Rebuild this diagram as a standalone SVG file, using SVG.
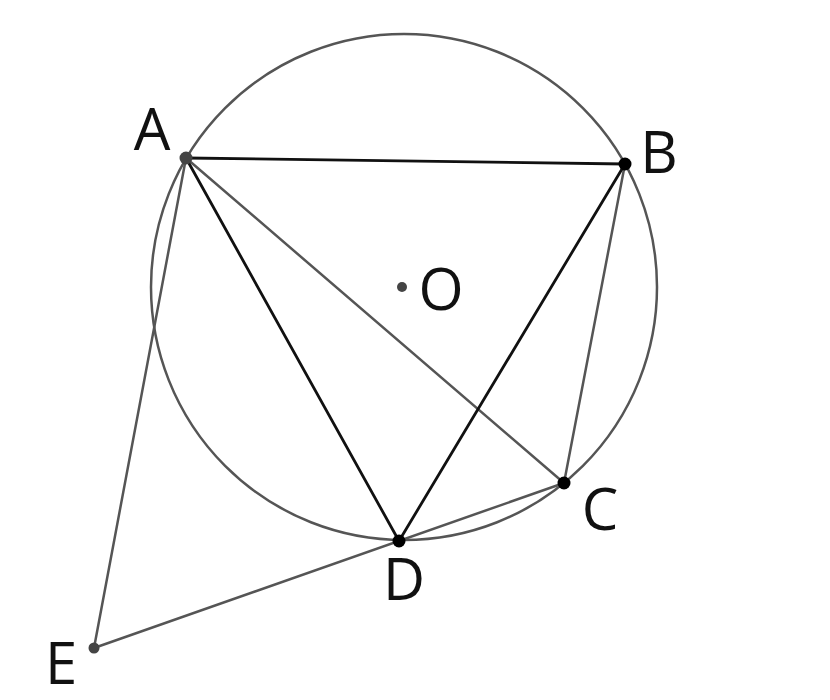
<svg xmlns="http://www.w3.org/2000/svg" width="830" height="700" viewBox="0 0 830 700">
<style>
.dark{stroke:#111;stroke-width:2.8;fill:none;stroke-linecap:round}
.gray{stroke:#555;stroke-width:2.5;fill:none;stroke-linecap:round}
.lbl{font-family:"Open Sans","Liberation Sans",sans-serif;font-size:58px;fill:#111;text-anchor:middle}
</style>
<rect width="830" height="700" fill="#fff"/>
<g id="circle"><circle cx="404" cy="287" r="253" class="gray"/></g>
<g id="connectors">
<line x1="186" y1="158" x2="564" y2="483" class="gray"/>
<line x1="625" y1="164" x2="564" y2="483" class="gray"/>
<line x1="186" y1="158" x2="94" y2="648" class="gray"/>
<line x1="94" y1="648" x2="564" y2="483" class="gray"/>
<line x1="186" y1="158" x2="625" y2="164" class="dark"/>
<line x1="186" y1="158" x2="399" y2="541" class="dark"/>
<line x1="625" y1="164" x2="399" y2="541" class="dark"/>
</g>
<g id="A"><circle cx="186" cy="158" r="6.5" fill="#444"/><text x="152" y="150" class="lbl">A</text></g>
<g id="B"><circle cx="625" cy="164" r="6.5" fill="#000"/><text x="659" y="173" class="lbl">B</text></g>
<g id="C"><circle cx="564" cy="483" r="6.5" fill="#000"/><text x="600" y="530" class="lbl">C</text></g>
<g id="D"><circle cx="399" cy="541" r="6.5" fill="#000"/><text x="404" y="600" class="lbl">D</text></g>
<g id="E"><circle cx="94" cy="648" r="5.5" fill="#444"/><text x="61" y="684" class="lbl">E</text></g>
<g id="O"><circle cx="402" cy="287" r="5" fill="#444"/><text x="441" y="310" class="lbl">O</text></g>
</svg>
